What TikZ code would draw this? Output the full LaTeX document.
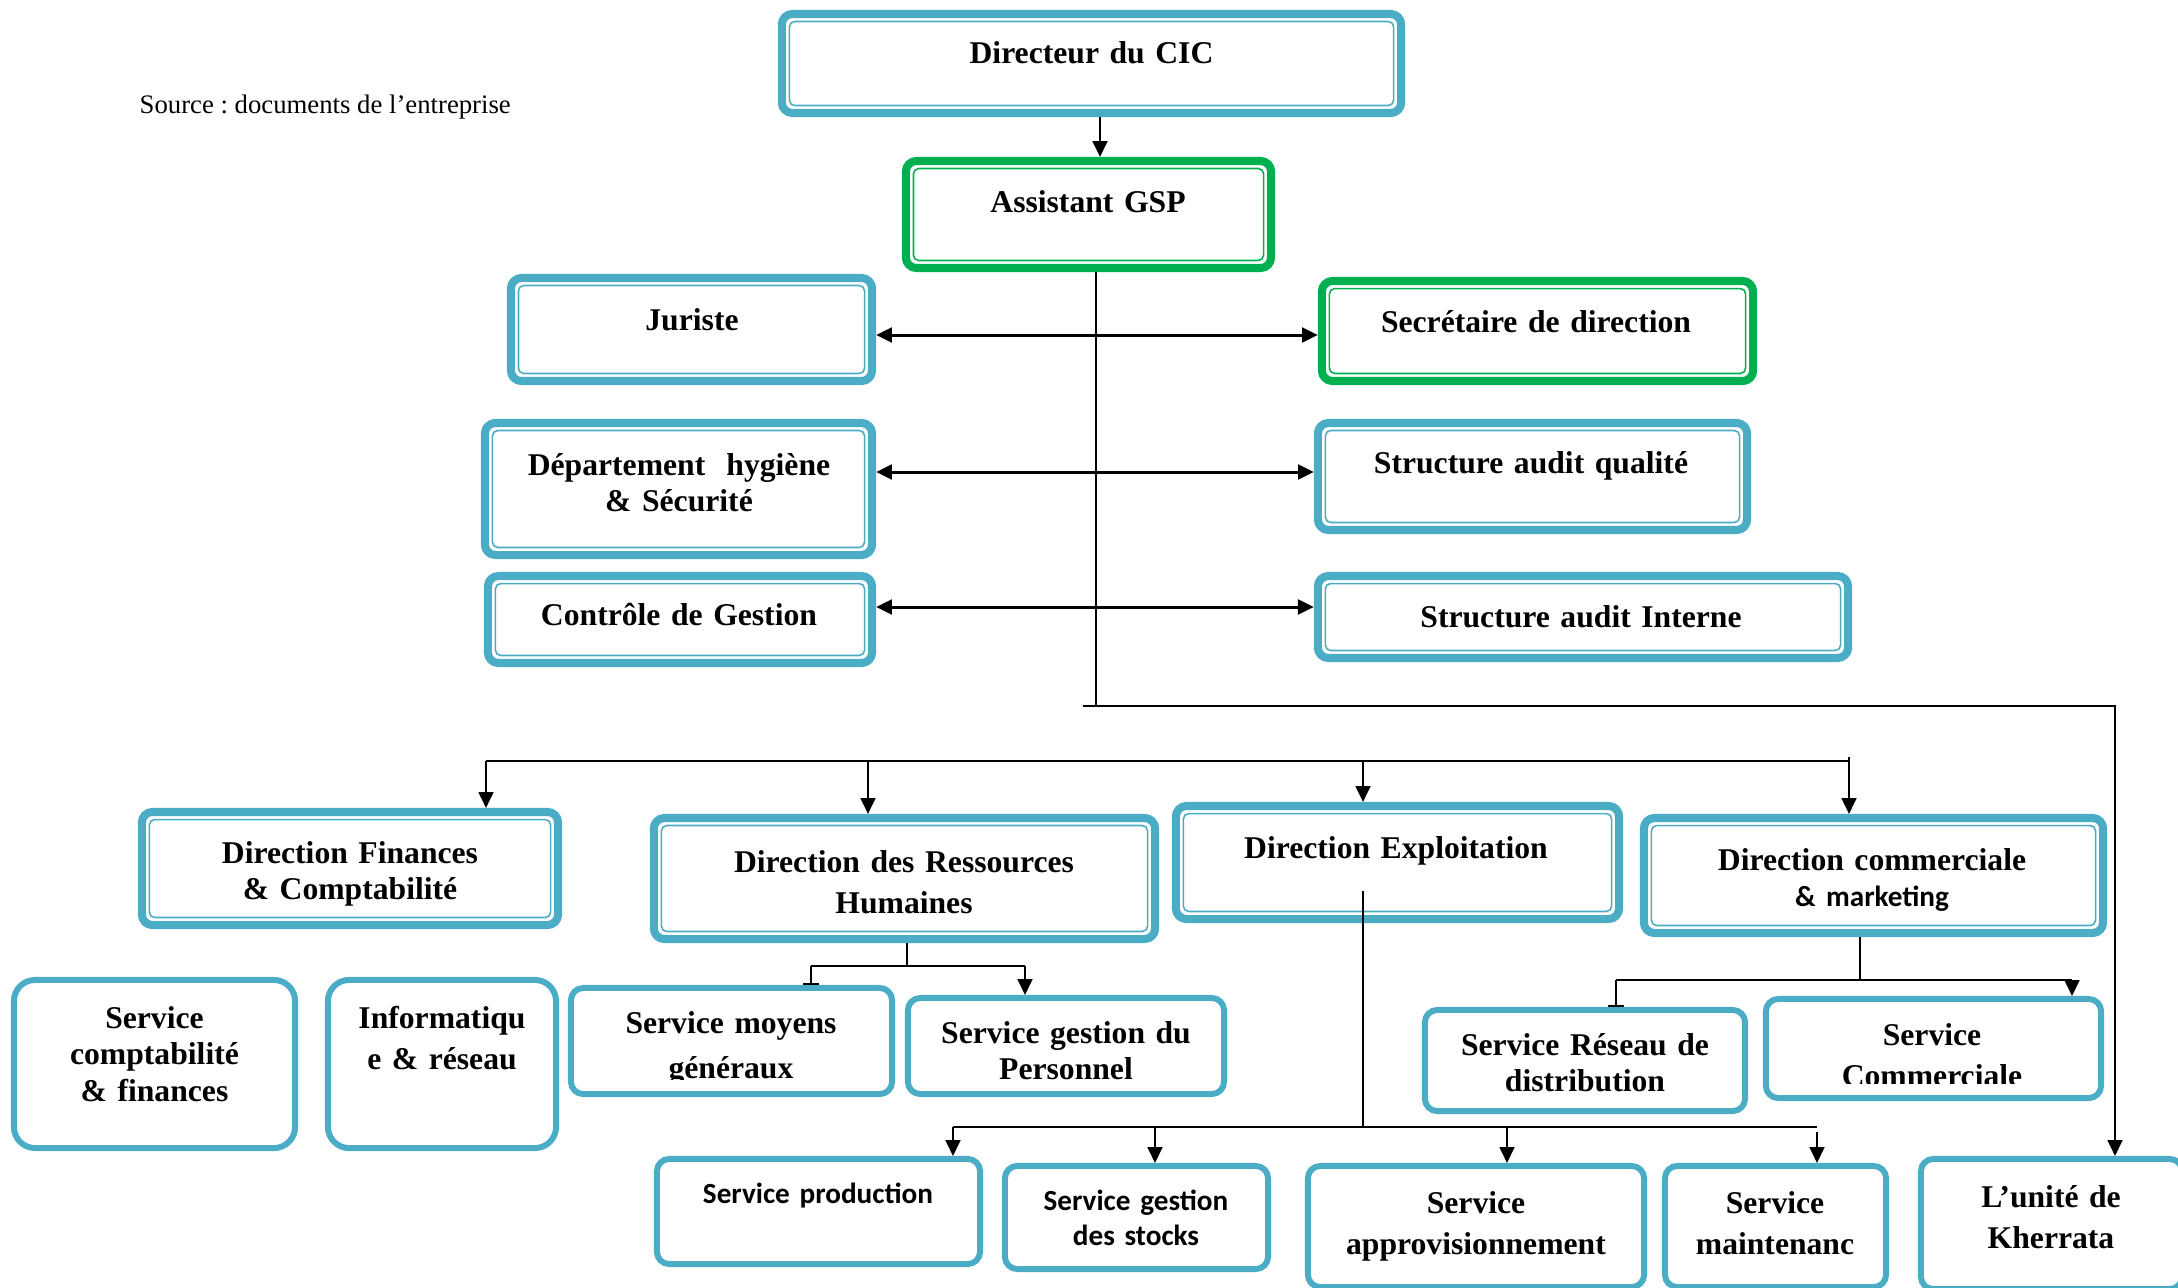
\documentclass[tikz,border=0pt]{standalone}
\usepackage{fontspec}
\setmainfont{Liberation Serif}
\newfontfamily\calibfont{Carlito}
\usepackage{xcolor}
\usetikzlibrary{arrows.meta, positioning}
\definecolor{cicblue}{RGB}{75, 172, 198}
\definecolor{cicgreen}{RGB}{0, 176, 80}
\frenchspacing

\begin{document}
\begin{tikzpicture}[x=0.01cm, y=-0.01cm, >={Triangle[length=4.5pt, width=4.2pt]},
  dbox/.style={draw=cicblue, line width=2.3pt, rounded corners=3pt,
               fill=white, inner sep=0pt},
  sbox/.style={draw=cicblue, line width=1.7pt, rounded corners=3.5pt,
               fill=white, inner sep=0pt},
  inline/.style={line width=0.45pt, rounded corners=1.5pt},
  lbl/.style={anchor=base, inner sep=0pt, text width=5cm, align=center,
              font=\bfseries\fontsize{9}{10.5}\selectfont},
  clbl/.style={lbl, font=\calibfont\bfseries\fontsize{8.3}{10}\selectfont},
  conn/.style={line width=0.6pt},
  dbl/.style={<->, line width=0.85pt}]
  \useasboundingbox (0,0) rectangle (2178,1287);

  % source
  \node[anchor=base west, inner sep=0pt, font=\fontsize{7.6}{9}\selectfont]
    (src) at (139,113) {Source : documents de l’entreprise};

  % direction generale
  \node[dbox, minimum width=6.19cm, minimum height=0.99cm] (dir) at (1091.5,63.5) {};
  \node[lbl] (tdir) at (1091.5,63) {Directeur du CIC};
  \node[dbox, draw=cicgreen, minimum width=3.65cm, minimum height=1.07cm] (asst) at (1088.5,214.5) {};
  \node[lbl] (tasst) at (1088,212) {Assistant GSP};

  % staff, left and right
  \node[dbox, minimum width=3.61cm, minimum height=1.03cm] (jur) at (691.5,329.5) {};
  \node[lbl] (tjur) at (692,330) {Juriste};
  \node[dbox, draw=cicgreen, minimum width=4.31cm, minimum height=1.00cm] (sec) at (1537.5,331) {};
  \node[lbl] (tsec) at (1536,332) {Secrétaire de direction};
  \node[dbox, minimum width=3.87cm, minimum height=1.32cm] (hyg) at (678.5,489) {};
  \node[lbl] (thyg) at (679,475) {Département\ \ hygiène\\ \& Sécurité};
  \node[dbox, minimum width=4.29cm, minimum height=1.07cm] (qual) at (1532.5,476.5) {};
  \node[lbl] (tqual) at (1531,473) {Structure audit qualité};
  \node[dbox, minimum width=3.84cm, minimum height=0.87cm] (ctrl) at (680,619.5) {};
  \node[lbl] (tctrl) at (679,625) {Contrôle de Gestion};
  \node[dbox, minimum width=5.30cm, minimum height=0.82cm] (intr) at (1583,617) {};
  \node[lbl] (tintr) at (1581,627) {Structure audit Interne};

  % directions
  \node[dbox, minimum width=4.16cm, minimum height=1.13cm] (fin) at (350,868.5) {};
  \node[lbl] (tfin) at (350,863) {Direction Finances\\ \& Comptabilité};
  \node[dbox, minimum width=5.01cm, minimum height=1.21cm] (rh) at (904.5,878.5) {};
  \node[lbl] (trh) at (904,872) {Direction des Ressources\\[1.2pt] Humaines};
  \node[dbox, minimum width=4.43cm, minimum height=1.13cm] (expl) at (1397.5,862.5) {};
  \node[lbl] (texpl) at (1396,858) {Direction Exploitation};
  \node[dbox, minimum width=4.59cm, minimum height=1.15cm] (com) at (1873.5,875.5) {};
  \node[lbl] (tcom) at (1872,870)
    {Direction commerciale\\ {\calibfont\fontsize{8.3}{10}\selectfont \& marketing}};

  % inner line of the framed boxes
  \foreach \b/\c in {dir/cicblue, asst/cicgreen, jur/cicblue, sec/cicgreen,
                     hyg/cicblue, qual/cicblue, ctrl/cicblue, intr/cicblue,
                     fin/cicblue, rh/cicblue, expl/cicblue, com/cicblue}
    \draw[inline, draw=\c] ([shift={(3.3pt,-3.3pt)}]\b.north west)
      rectangle ([shift={(-3.3pt,3.3pt)}]\b.south east);

  % services
  \node[sbox, rounded corners=6pt, minimum width=2.81cm, minimum height=1.68cm] (compta) at (154.5,1064) {};
  \node[lbl] (tcompta) at (154.5,1028) {Service\\ comptabilité\\ \& finances};
  \node[sbox, rounded corners=6pt, minimum width=2.28cm, minimum height=1.68cm] (info) at (442,1064) {};
  \node[lbl] (tinfo) at (442,1028) {Informatiqu\\[1.4pt] e \& réseau};
  \node[sbox, minimum width=3.21cm, minimum height=1.06cm] (moy) at (731.5,1041) {};
  \begin{scope}
    \clip (moy.north west) rectangle (moy.east |- 0,1079);
    \node[lbl] (tmoy) at (731,1033) {Service moyens\\[2.3pt] généraux};
  \end{scope}
  \node[sbox, minimum width=3.16cm, minimum height=0.96cm] (pers) at (1066,1046) {};
  \node[lbl] (tpers) at (1066,1043) {Service gestion du\\ Personnel};
  \node[sbox, minimum width=3.20cm, minimum height=1.01cm] (res) at (1585,1060.5) {};
  \node[lbl] (tres) at (1585,1055) {Service Réseau de\\ distribution};
  \node[sbox, minimum width=3.35cm, minimum height=0.99cm] (scom) at (1933.5,1048.5) {};
  \begin{scope}
    \clip (scom.north west) rectangle (scom.east |- 0,1083);
    \node[lbl] (tscom) at (1932,1045) {Service\\[1.4pt] Commerciale};
  \end{scope}
  \node[sbox, minimum width=3.23cm, minimum height=1.05cm] (prod) at (818.5,1211.5) {};
  \node[clbl] (tprod) at (818,1203) {Service production};
  \node[sbox, minimum width=2.63cm, minimum height=1.03cm] (stock) at (1136.5,1217.5) {};
  \node[clbl] (tstock) at (1136,1210) {Service gestion\\ des stocks};
  \node[sbox, minimum width=3.36cm, minimum height=1.21cm] (appro) at (1476,1226.5) {};
  \node[lbl] (tappro) at (1476,1213) {Service\\[1.4pt] approvisionnement};
  \node[sbox, minimum width=2.21cm, minimum height=1.21cm] (maint) at (1775.5,1226.5) {};
  \node[lbl] (tmaint) at (1775,1213) {Service\\[1.4pt] maintenanc};
  \node[sbox, minimum width=2.61cm, minimum height=1.30cm] (kher) at (2051.5,1224) {};
  \node[lbl] (tkher) at (2051,1207) {L’unité de\\[1.2pt] Kherrata};

  % junction points
  \coordinate (tkL) at (1083,706);
  \coordinate (tk) at (1096,706);
  \coordinate (kc) at (2115,706);
  \coordinate (b1) at (486,761);
  \coordinate (b2) at (868,761);
  \coordinate (b3) at (1363,761);
  \coordinate (b4) at (1849,761);
  \coordinate (rhj) at (907,966);
  \coordinate (rhL) at (811,966);
  \coordinate (rhR) at (1025,966);
  \coordinate (exj) at (1363,1127);
  \coordinate (ex1) at (953,1127);
  \coordinate (ex2) at (1155,1127);
  \coordinate (ex3) at (1507,1127);
  \coordinate (ex4) at (1817,1127);
  \coordinate (cmj) at (1860,980);
  \coordinate (cmL) at (1616,980);
  \coordinate (cmR) at (2072,980);

  % top links
  \draw[->, line width=0.75pt] ([xshift=0.085cm]dir.south) -- ([xshift=0.085cm]dir.south |- asst.north);
  \draw[line width=0.45pt] ([xshift=0.075cm]asst.south) -- (tk);
  \draw[dbl] (jur.east |- 0,335) -- (sec.west |- 0,335);
  \draw[dbl] (hyg.east |- 0,472) -- (qual.west |- 0,472);
  \draw[dbl] (ctrl.east |- 0,607) -- (intr.west |- 0,607);
  \draw[->, conn] (tkL) -- (kc) -- (kc |- kher.north);

  % directions bus
  \draw[conn] (b1) -- (b4);
  \draw[->, conn] (b1) -- (b1 |- fin.north);
  \draw[->, conn] (b2) -- (b2 |- rh.north);
  \draw[->, conn] (b3) -- (b3 |- expl.north);
  \draw[->, conn] ([yshift=0.04cm]b4) -- (b4 |- com.north);

  % RH services
  \draw[conn] (rh.south -| rhj) -- (rhj);
  \draw[conn] (rhL) -- (rhR);
  \draw[-{Bar[width=4.5pt]}, conn] (rhL) -- (rhL |- moy.north);
  \draw[->, conn] (rhR) -- (rhR |- pers.north);

  % exploitation services
  \draw[line width=0.45pt] ([yshift=0.32cm]expl.south -| exj) -- (exj);
  \draw[conn] (ex1) -- (ex4);
  \draw[->, conn] (ex1) -- (ex1 |- prod.north);
  \draw[->, conn] (ex2) -- (ex2 |- stock.north);
  \draw[->, conn] (ex3) -- (ex3 |- appro.north);
  \draw[->, conn] ([yshift=-0.05cm]ex4) -- (ex4 |- maint.north);

  % commercial services
  \draw[conn] (com.south -| cmj) -- (cmj);
  \draw[conn] (cmL) -- (cmR);
  \draw[-{Bar[width=4.5pt]}, conn] (cmL) -- (cmL |- res.north);
  \draw[->, conn] (cmR) -- (cmR |- scom.north);
\end{tikzpicture}
\end{document}
